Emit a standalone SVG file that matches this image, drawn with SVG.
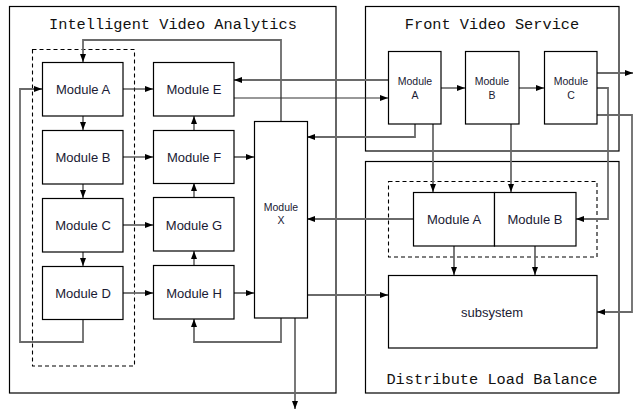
<svg xmlns="http://www.w3.org/2000/svg" width="640" height="416" viewBox="0 0 640 416">
<style>
.box{fill:#fff;stroke:#000;stroke-width:1.2}
.frame{fill:none;stroke:#000;stroke-width:1.2}
.dash{fill:none;stroke:#000;stroke-width:1.1;stroke-dasharray:4,3}
.title{font-family:"Liberation Mono","DejaVu Sans Mono",monospace;font-size:15.3px;fill:#111;text-anchor:middle}
.lbl{font-family:"Liberation Sans",Arial,sans-serif;font-size:13px;fill:#1a1a33;text-anchor:middle}
.sm{font-family:"Liberation Sans",Arial,sans-serif;font-size:10.5px;fill:#1a1a33;text-anchor:middle}
.g{fill:none;stroke:#6a6a6a;stroke-width:1.8}
.d{fill:none;stroke:#333;stroke-width:1.2}
</style>
<defs>
<marker id="ah" viewBox="0 0 8 6" refX="8" refY="3" markerWidth="8" markerHeight="6" markerUnits="userSpaceOnUse" orient="auto">
<path d="M0,0 L8,3 L0,6 z" fill="#000"/>
</marker>
</defs>
<rect width="640" height="416" fill="#fff"/>
<g id="frames">
<rect class="frame" x="9.5" y="6.5" width="326.5" height="386.5"/>
<text class="title" x="173" y="29">Intelligent Video Analytics</text>
<rect class="frame" x="365.5" y="6.5" width="253.5" height="144.5"/>
<text class="title" x="492" y="29">Front Video Service</text>
<rect class="frame" x="365.5" y="161.5" width="253.5" height="231.5"/>
<text class="title" x="492" y="384">Distribute Load Balance</text>
<rect class="dash" x="32.5" y="49.5" width="102" height="316.5"/>
<rect class="dash" x="388.5" y="181.5" width="208.5" height="75.5"/>
</g>
<g id="connectors">
<polyline class="g" points="281,121 281,40 83,40 83,62" marker-end="url(#ah)"/>
<polyline class="g" points="83,319 83,342 20,342 20,89 42,89" marker-end="url(#ah)"/>
<line class="d" x1="123" y1="89" x2="153" y2="89" marker-end="url(#ah)"/>
<line class="d" x1="83" y1="116" x2="83" y2="130" marker-end="url(#ah)"/>
<line class="d" x1="83" y1="184" x2="83" y2="198" marker-end="url(#ah)"/>
<line class="d" x1="83" y1="252" x2="83" y2="266" marker-end="url(#ah)"/>
<line class="d" x1="123" y1="157" x2="153" y2="157" marker-end="url(#ah)"/>
<line class="g" x1="123" y1="225" x2="153" y2="225" marker-end="url(#ah)"/>
<line class="g" x1="123" y1="293" x2="153" y2="293" marker-end="url(#ah)"/>
<line class="d" x1="194" y1="130" x2="194" y2="116" marker-end="url(#ah)"/>
<line class="d" x1="194" y1="197" x2="194" y2="183" marker-end="url(#ah)"/>
<line class="d" x1="194" y1="265" x2="194" y2="251" marker-end="url(#ah)"/>
<line class="g" x1="234" y1="157" x2="254" y2="157" marker-end="url(#ah)"/>
<line class="g" x1="234" y1="293" x2="254" y2="293" marker-end="url(#ah)"/>
<polyline class="g" points="281,318 281,342 194,342 194,319" marker-end="url(#ah)"/>
<line class="g" x1="295" y1="318" x2="295" y2="409" marker-end="url(#ah)"/>
<line class="g" x1="388" y1="80" x2="234" y2="80" marker-end="url(#ah)"/>
<line class="d" x1="234" y1="98" x2="388" y2="98" marker-end="url(#ah)"/>
<polyline class="g" points="415,124 415,137 307,137" marker-end="url(#ah)"/>
<line class="d" x1="441" y1="88" x2="465" y2="88" marker-end="url(#ah)"/>
<line class="d" x1="519" y1="88" x2="544" y2="88" marker-end="url(#ah)"/>
<line class="g" x1="597" y1="73" x2="633" y2="73" marker-end="url(#ah)"/>
<polyline class="g" points="597,88 608,88 608,219 576,219" marker-end="url(#ah)"/>
<polyline class="g" points="597,115 632,115 632,312 597,312" marker-end="url(#ah)"/>
<line class="g" x1="433" y1="124" x2="433" y2="192" marker-end="url(#ah)"/>
<line class="g" x1="511" y1="124" x2="511" y2="192" marker-end="url(#ah)"/>
<line class="g" x1="413" y1="219" x2="307" y2="219" marker-end="url(#ah)"/>
<line class="g" x1="307" y1="295" x2="388" y2="295" marker-end="url(#ah)"/>
<line class="g" x1="454" y1="246" x2="454" y2="275" marker-end="url(#ah)"/>
<line class="g" x1="535" y1="246" x2="535" y2="275" marker-end="url(#ah)"/>
</g>
<g id="iva-module-a"><rect class="box" x="42.5" y="62.5" width="80.5" height="53.5"/><text class="lbl" x="83" y="93.5">Module A</text></g>
<g id="iva-module-b"><rect class="box" x="42.5" y="130.5" width="80.5" height="53.5"/><text class="lbl" x="83" y="161.5">Module B</text></g>
<g id="iva-module-c"><rect class="box" x="42.5" y="198.5" width="80.5" height="53.5"/><text class="lbl" x="83" y="229.5">Module C</text></g>
<g id="iva-module-d"><rect class="box" x="42.5" y="266.5" width="80.5" height="53"/><text class="lbl" x="83" y="297.5">Module D</text></g>
<g id="iva-module-e"><rect class="box" x="153.5" y="62.5" width="80.5" height="53.5"/><text class="lbl" x="194" y="93.5">Module E</text></g>
<g id="iva-module-f"><rect class="box" x="153.5" y="130.5" width="80.5" height="53"/><text class="lbl" x="194" y="161.5">Module F</text></g>
<g id="iva-module-g"><rect class="box" x="153.5" y="197.5" width="80.5" height="53.5"/><text class="lbl" x="194" y="229.5">Module G</text></g>
<g id="iva-module-h"><rect class="box" x="153.5" y="265.5" width="80.5" height="53.5"/><text class="lbl" x="194" y="297.5">Module H</text></g>
<g id="iva-module-x"><rect class="box" x="254.5" y="121.5" width="53" height="196.5"/><text class="sm" x="281" y="211">Module</text><text class="sm" x="281" y="224">X</text></g>
<g id="fvs-module-a"><rect class="box" x="388.5" y="51.5" width="52.5" height="72.5"/><text class="sm" x="415" y="85">Module</text><text class="sm" x="415" y="99">A</text></g>
<g id="fvs-module-b"><rect class="box" x="465.5" y="51.5" width="53.5" height="72.5"/><text class="sm" x="492" y="85">Module</text><text class="sm" x="492" y="99">B</text></g>
<g id="fvs-module-c"><rect class="box" x="544.5" y="51.5" width="52.5" height="72.5"/><text class="sm" x="571" y="85">Module</text><text class="sm" x="571" y="99">C</text></g>
<g id="dlb-module-a"><rect class="box" x="413.5" y="192.5" width="81" height="53.5"/><text class="lbl" x="454" y="223.5">Module A</text></g>
<g id="dlb-module-b"><rect class="box" x="494.5" y="192.5" width="81.5" height="53.5"/><text class="lbl" x="535" y="223.5">Module B</text></g>
<g id="subsystem"><rect class="box" x="388.5" y="275.5" width="208.5" height="72.5"/><text class="lbl" x="492" y="316.5">subsystem</text></g>
</svg>
